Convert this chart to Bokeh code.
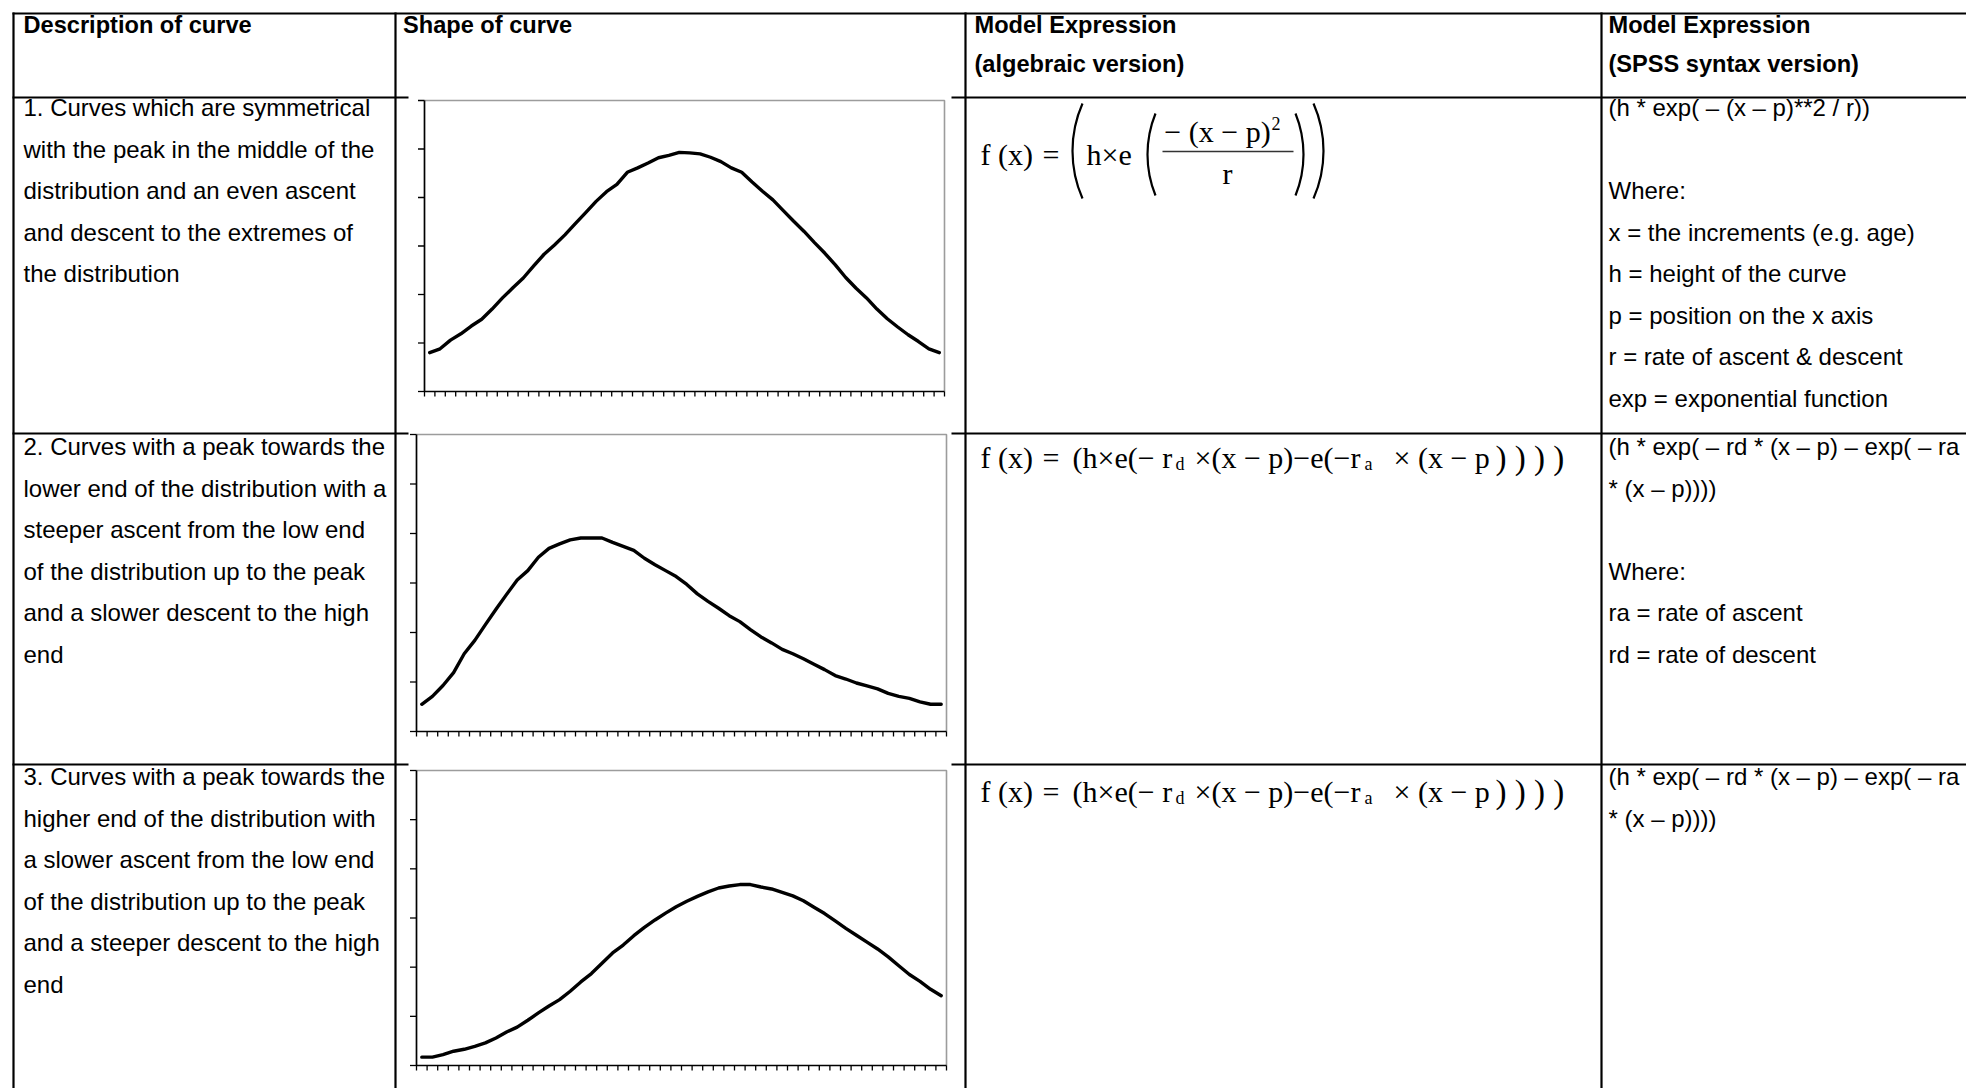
import math
from bokeh.plotting import figure
from bokeh.models import Range1d, ColumnDataSource
from bokeh.core.properties import value
from bokeh.embed import file_html
from bokeh.resources import INLINE

# ---------------- chart data ----------------
categories = list(range(1, 51))
y_ticks = [0, 1, 2, 3, 4, 5, 6]

symmetric_curve = [0.80, 0.88, 1.06, 1.19, 1.35, 1.49, 1.70, 1.93, 2.14, 2.34,
                   2.59, 2.83, 3.02, 3.23, 3.46, 3.69, 3.92, 4.12, 4.27, 4.52,
                   4.61, 4.71, 4.82, 4.87, 4.93, 4.92, 4.90, 4.83, 4.74, 4.61,
                   4.52, 4.32, 4.13, 3.95, 3.73, 3.51, 3.30, 3.07, 2.85, 2.61,
                   2.35, 2.13, 1.93, 1.70, 1.50, 1.33, 1.17, 1.03, 0.88, 0.80]

early_peak_curve = [0.55, 0.71, 0.93, 1.19, 1.57, 1.84, 2.16, 2.47, 2.77, 3.06,
                    3.25, 3.52, 3.70, 3.79, 3.87, 3.91, 3.91, 3.91, 3.82, 3.74,
                    3.66, 3.50, 3.37, 3.25, 3.13, 2.97, 2.78, 2.63, 2.49, 2.34,
                    2.22, 2.06, 1.91, 1.79, 1.66, 1.57, 1.47, 1.36, 1.25, 1.13,
                    1.06, 0.98, 0.92, 0.86, 0.77, 0.71, 0.67, 0.60, 0.55, 0.55]

late_peak_curve = [0.17, 0.17, 0.22, 0.29, 0.33, 0.39, 0.46, 0.56, 0.68, 0.78,
                   0.92, 1.07, 1.21, 1.34, 1.51, 1.70, 1.87, 2.08, 2.29, 2.45,
                   2.64, 2.81, 2.96, 3.10, 3.23, 3.34, 3.44, 3.53, 3.61, 3.65,
                   3.68, 3.68, 3.63, 3.59, 3.52, 3.45, 3.35, 3.22, 3.09, 2.94,
                   2.79, 2.65, 2.51, 2.37, 2.21, 2.03, 1.85, 1.71, 1.55, 1.42]

curves = [symmetric_curve, early_peak_curve, late_peak_curve]

# ---------------- table texts ----------------
header_desc = ["Description of curve"]
header_shape = ["Shape of curve"]
header_alg = ["Model Expression", "(algebraic version)"]
header_spss = ["Model Expression", "(SPSS syntax version)"]

desc_rows = [
    ["1. Curves which are symmetrical",
     "with the peak in the middle of the",
     "distribution and an even ascent",
     "and descent to the extremes of",
     "the distribution"],
    ["2. Curves with a peak towards the",
     "lower end of the distribution with a",
     "steeper ascent from the low end",
     "of the distribution up to the peak",
     "and a slower descent to the high",
     "end"],
    ["3. Curves with a peak towards the",
     "higher end of the distribution with",
     "a slower ascent from the low end",
     "of the distribution up to the peak",
     "and a steeper descent to the high",
     "end"],
]

# (line index within the cell, text)
spss_rows = [
    [(0, "(h * exp( \u2013 (x \u2013 p)**2 / r))"),
     (2, "Where:"),
     (3, "x = the increments (e.g. age)"),
     (4, "h = height of the curve"),
     (5, "p = position on the x axis"),
     (6, "r = rate of ascent & descent"),
     (7, "exp = exponential function")],
    [(0, "(h * exp( \u2013 rd * (x \u2013 p) \u2013 exp( \u2013 ra"),
     (1, "* (x \u2013 p))))"),
     (3, "Where:"),
     (4, "ra = rate of ascent"),
     (5, "rd = rate of descent")],
    [(0, "(h * exp( \u2013 rd * (x \u2013 p) \u2013 exp( \u2013 ra"),
     (1, "* (x \u2013 p))))")],
]

# ---------------- layout (page pixels) ----------------
W, H = 1966, 1088
COL_X = [13, 395, 965, 1601]
ROW_Y = [13, 97, 433, 764]
COVER_L, COVER_R = 408, 951          # chart pictures hide the row rules here
CHART_BOX = [(424, 944, 100, 391), (416, 946, 434, 731), (416, 946, 770, 1065)]
TEXT_PAD = [23, 402.5, 974, 1608]
HEAD_MID = [24, 63]
ROW_MID = [107, 446, 776]
LINE_H = 41.5
FORMULA_MID = [154, 457, 791]

SANS = value("Liberation Sans")
SERIF = value("Liberation Serif")

p = figure(width=W, height=H, x_range=Range1d(0, W), y_range=Range1d(H, 0),
           output_backend="svg", toolbar_location=None, min_border=0,
           x_axis_location=None, y_axis_location=None, outline_line_color=None,
           background_fill_color="white", border_fill_color="white")
p.xgrid.visible = False
p.ygrid.visible = False

# ---------------- table rules ----------------
RIGHT_EDGE = W + 30
BOTTOM_EDGE = H + 30
sx0, sy0, sx1, sy1 = [], [], [], []
sx0.append(COL_X[0] - 1); sx1.append(RIGHT_EDGE); sy0.append(ROW_Y[0]); sy1.append(ROW_Y[0])
for y in ROW_Y[1:]:
    sx0 += [COL_X[0] - 1, COVER_R]; sx1 += [COVER_L, RIGHT_EDGE]
    sy0 += [y, y]; sy1 += [y, y]
for x in COL_X:
    sx0.append(x); sx1.append(x); sy0.append(ROW_Y[0] - 1); sy1.append(BOTTOM_EDGE)
p.segment(x0=sx0, y0=sy0, x1=sx1, y1=sy1, line_color="black", line_width=2.2)

# ---------------- charts ----------------
x_bounds = [c - 0.5 for c in categories] + [categories[-1] + 0.5]


def draw_chart(values, box):
    left, right, top, bottom = box
    xs = Range1d(x_bounds[0], x_bounds[-1])
    ys = Range1d(y_ticks[0], y_ticks[-1])
    sub = p.subplot(x_source=xs, y_source=ys,
                    x_target=Range1d(left, right), y_target=Range1d(bottom, top))
    ppx = (right - left) / (xs.end - xs.start)
    ppy = (bottom - top) / (ys.end - ys.start)
    ytl = 6.5 / ppx
    xtl = 5.0 / ppy
    n = len(x_bounds)
    sub.line(x=[xs.start, xs.end, xs.end], y=[ys.end, ys.end, ys.start],
             line_color="#9c9c9c", line_width=1.6)
    sub.segment(x0=x_bounds, y0=[ys.start] * n, x1=x_bounds, y1=[ys.start - xtl] * n,
                line_color="black", line_width=1.3)
    m = len(y_ticks)
    sub.segment(x0=[xs.start - ytl] * m, y0=y_ticks, x1=[xs.start] * m, y1=y_ticks,
                line_color="black", line_width=1.3)
    sub.line(x=[xs.start, xs.start, xs.end], y=[ys.end, ys.start, ys.start],
             line_color="black", line_width=1.7)
    sub.line(x=categories, y=values, line_color="black", line_width=3.4,
             line_join="round", line_cap="round")


for vals, box in zip(curves, CHART_BOX):
    draw_chart(vals, box)

# ---------------- texts ----------------
bold = dict(x=[], y=[], t=[])
reg = dict(x=[], y=[], t=[])


def add(d, x, y, t):
    d["x"].append(x); d["y"].append(y); d["t"].append(t)


for i, t in enumerate(header_desc):
    add(bold, TEXT_PAD[0], HEAD_MID[i], t)
for i, t in enumerate(header_shape):
    add(bold, TEXT_PAD[1], HEAD_MID[i], t)
for i, t in enumerate(header_alg):
    add(bold, TEXT_PAD[2], HEAD_MID[i], t)
for i, t in enumerate(header_spss):
    add(bold, TEXT_PAD[3], HEAD_MID[i], t)

for r, lines in enumerate(desc_rows):
    for k, t in enumerate(lines):
        add(reg, TEXT_PAD[0], ROW_MID[r] + k * LINE_H, t)
for r, lines in enumerate(spss_rows):
    for k, t in lines:
        add(reg, TEXT_PAD[3], ROW_MID[r] + k * LINE_H, t)

p.text(x="x", y="y", text="t", source=ColumnDataSource(bold), text_font=SANS,
       text_font_style="bold", text_font_size="23.6px", text_baseline="middle",
       text_align="left", text_color="black")
p.text(x="x", y="y", text="t", source=ColumnDataSource(reg), text_font=SANS,
       text_font_size="24px", text_baseline="middle", text_align="left",
       text_color="black")

# ---------------- formulas (Times-like serif) ----------------
MINUS = "\u2212"
fx = dict(x=[], y=[], t=[], s=[], a=[])


def fadd(x, y, t, s="30px", a="left"):
    fx["x"].append(x); fx["y"].append(y); fx["t"].append(t); fx["s"].append(s); fx["a"].append(a)


m = FORMULA_MID[0]
fadd(980, m, "f (x)")
fadd(1042, m, "=")
fadd(1086, m, "h\u00d7e")
fadd(1217, m - 23, MINUS + " (x " + MINUS + " p)", a="center")
fadd(1271, m - 31, "2", s="18px")
fadd(1227, m + 19, "r", a="center")

for m in FORMULA_MID[1:]:
    fadd(980, m, "f (x)")
    fadd(1042, m, "=")
    fadd(1072, m, "(h\u00d7e(" + MINUS + " r")
    fadd(1175, m + 6, "d", s="18px")
    fadd(1194, m, "\u00d7(x " + MINUS + " p)" + MINUS + "e(" + MINUS + "r")
    fadd(1364, m + 6, "a", s="18px")
    fadd(1393, m, "\u00d7 (x " + MINUS + " p")
    fadd(1495, m, ") ) ) )", s="33px")

p.text(x="x", y="y", text="t", source=ColumnDataSource(fx), text_font=SERIF,
       text_font_size="s", text_align="a", text_baseline="middle", text_color="black")

# fraction bar of formula 1
p.segment(x0=[1162], y0=[151], x1=[1293], y1=[151], line_color="#333333", line_width=1.6)


# tall delimiters of formula 1 drawn as thin arcs
def paren(x_ink0, x_ink1, y_top, y_bot, opening):
    half = (y_bot - y_top) / 2.0
    s = x_ink1 - x_ink0
    R = (half ** 2 + s ** 2) / (2 * s)
    th = math.asin(half / R)
    ym = (y_top + y_bot) / 2.0
    if opening:
        return x_ink0 + R, ym, R, math.pi - th, math.pi + th
    return x_ink1 - R, ym, R, -th, th


arcs = [paren(1072, 1082, 103, 198, True), paren(1147, 1155, 113, 195, True),
        paren(1295, 1303, 113, 195, False), paren(1313, 1323, 103, 198, False)]
p.arc(x=[a[0] for a in arcs], y=[a[1] for a in arcs], radius=[a[2] for a in arcs],
      start_angle=[a[3] for a in arcs], end_angle=[a[4] for a in arcs],
      line_color="black", line_width=2.2)

open("out.html", "w").write(file_html(p, INLINE))
